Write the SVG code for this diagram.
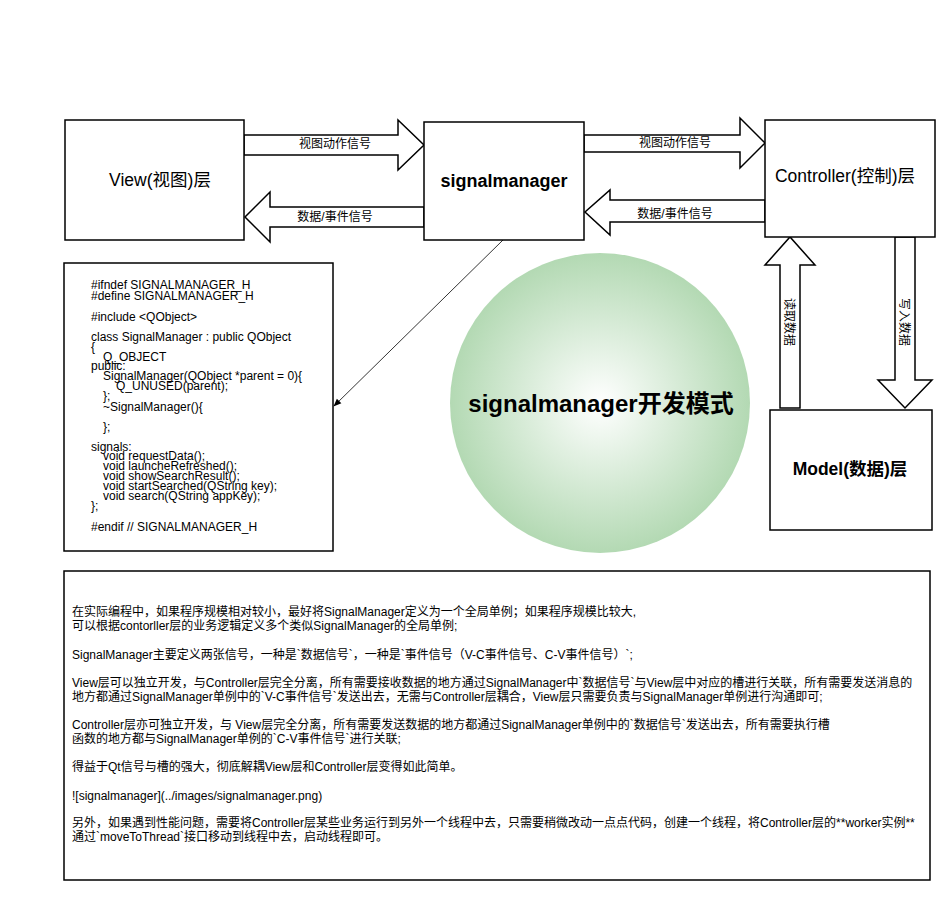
<svg xmlns="http://www.w3.org/2000/svg" width="950" height="900" viewBox="0 0 950 900">
<style>
.box{fill:#fff;stroke:#000;stroke-width:1.5}
.arr{fill:#fff;stroke:#000;stroke-width:1.5}
.lbl{font-family:"Liberation Sans","Noto Sans CJK SC",sans-serif;fill:#000}
.al{font-size:12px;text-anchor:middle}
.code{font-family:"Liberation Sans",sans-serif;font-size:12px;fill:#000}
.para{font-family:"Liberation Sans","Noto Sans CJK SC",sans-serif;font-size:12px;fill:#000}
</style>
<defs>
<radialGradient id="g" cx="50%" cy="50%" r="50%">
<stop offset="0" stop-color="#ffffff"/>
<stop offset="1" stop-color="#b3d9b3"/>
</radialGradient>
<marker id="ah" viewBox="0 0 10 10" refX="9" refY="5" markerWidth="8" markerHeight="8" orient="auto" markerUnits="userSpaceOnUse">
<path d="M0,1 L10,5 L0,9 z" fill="#000"/>
</marker>
</defs>
<rect width="950" height="900" fill="#fff"/>

<g id="connectors">
<polygon class="arr" points="244,135 398,135 398,120 424,145 398,170 398,155 244,155"/>
<text class="lbl al" x="335" y="148">视图动作信号</text>
<polygon class="arr" points="584,135 740,135 740,118 765,143 740,168 740,152 584,152"/>
<text class="lbl al" x="675" y="147">视图动作信号</text>
<polygon class="arr" points="424,207 270,207 270,192 245,217 270,242 270,227 424,227"/>
<text class="lbl al" x="335" y="221">数据/事件信号</text>
<polygon class="arr" points="765,200 610,200 610,190 585,212 610,235 610,222 765,222"/>
<text class="lbl al" x="675" y="218">数据/事件信号</text>
<polygon class="arr" points="780,408 780,265 765,265 790,237 815,265 800,265 800,408"/>
<text class="lbl al" transform="translate(785,322) rotate(90)">读取数据</text>
<polygon class="arr" points="895,237 915,237 915,380 932,380 905,408 878,380 895,380"/>
<text class="lbl al" transform="translate(900,322) rotate(90)">写入数据</text>
<line x1="503" y1="240" x2="334" y2="406" stroke="#000" stroke-width="0.8" marker-end="url(#ah)"/>
</g>

<g id="view">
<rect class="box" x="65" y="120" width="179" height="120"/>
<text class="lbl" x="160" y="186" font-size="17.5" text-anchor="middle">View(视图)层</text>
</g>
<g id="signalmanager">
<rect class="box" x="424" y="122" width="160" height="118"/>
<text class="lbl" x="504" y="187" font-size="18" font-weight="bold" text-anchor="middle">signalmanager</text>
</g>
<g id="controller">
<rect class="box" x="765" y="120" width="170" height="117"/>
<text class="lbl" x="845" y="182" font-size="17.5" text-anchor="middle">Controller(控制)层</text>
</g>
<g id="model">
<rect class="box" x="770" y="410" width="162" height="120"/>
<text class="lbl" x="850" y="475" font-size="17.5" font-weight="bold" text-anchor="middle">Model(数据)层</text>
</g>

<g id="mode">
<circle cx="600" cy="403" r="150" fill="url(#g)"/>
<text class="lbl" x="601" y="412" font-size="24" font-weight="bold" text-anchor="middle">signalmanager开发模式</text>
</g>

<g id="code">
<rect class="box" x="64" y="263" width="269" height="288"/>
<text class="code">
<tspan x="91" y="289">#ifndef SIGNALMANAGER_H</tspan>
<tspan x="91" y="300">#define SIGNALMANAGER_H</tspan>
<tspan x="91" y="321">#include &lt;QObject&gt;</tspan>
<tspan x="91" y="341">class SignalManager : public QObject</tspan>
<tspan x="91" y="351">{</tspan>
<tspan x="103" y="361">Q_OBJECT</tspan>
<tspan x="91" y="370">public:</tspan>
<tspan x="103" y="380">SignalManager(QObject *parent = 0){</tspan>
<tspan x="116" y="390">Q_UNUSED(parent);</tspan>
<tspan x="103" y="400">};</tspan>
<tspan x="103" y="411">~SignalManager(){</tspan>
<tspan x="103" y="431">};</tspan>
<tspan x="91" y="451">signals:</tspan>
<tspan x="103" y="460">void requestData();</tspan>
<tspan x="103" y="470">void launcheRefreshed();</tspan>
<tspan x="103" y="480">void showSearchResult();</tspan>
<tspan x="103" y="490">void startSearched(QString key);</tspan>
<tspan x="103" y="500">void search(QString appKey);</tspan>
<tspan x="91" y="510">};</tspan>
<tspan x="91" y="531">#endif // SIGNALMANAGER_H</tspan>
</text>
</g>

<g id="notes">
<rect class="box" x="64" y="571" width="866" height="309"/>
<text class="para">
<tspan x="72" y="616">在实际编程中，如果程序规模相对较小，最好将SignalManager定义为一个全局单例；如果程序规模比较大,</tspan>
<tspan x="72" y="630">可以根据contorller层的业务逻辑定义多个类似SignalManager的全局单例;</tspan>
<tspan x="72" y="659">SignalManager主要定义两张信号，一种是`数据信号`，一种是`事件信号（V-C事件信号、C-V事件信号）`;</tspan>
<tspan x="72" y="687">View层可以独立开发，与Controller层完全分离，所有需要接收数据的地方通过SignalManager中`数据信号`与View层中对应的槽进行关联，所有需要发送消息的</tspan>
<tspan x="72" y="701">地方都通过SignalManager单例中的`V-C事件信号`发送出去，无需与Controller层耦合，View层只需要负责与SignalManager单例进行沟通即可;</tspan>
<tspan x="72" y="729">Controller层亦可独立开发，与 View层完全分离，所有需要发送数据的地方都通过SignalManager单例中的`数据信号`发送出去，所有需要执行槽</tspan>
<tspan x="72" y="743">函数的地方都与SignalManager单例的`C-V事件信号`进行关联;</tspan>
<tspan x="72" y="771">得益于Qt信号与槽的强大，彻底解耦View层和Controller层变得如此简单。</tspan>
<tspan x="72" y="800">![signalmanager](../images/signalmanager.png)</tspan>
<tspan x="72" y="827">另外，如果遇到性能问题，需要将Controller层某些业务运行到另外一个线程中去，只需要稍微改动一点点代码，创建一个线程，将Controller层的**worker实例**</tspan>
<tspan x="72" y="841">通过`moveToThread`接口移动到线程中去，启动线程即可。</tspan>
</text>
</g>
</svg>
